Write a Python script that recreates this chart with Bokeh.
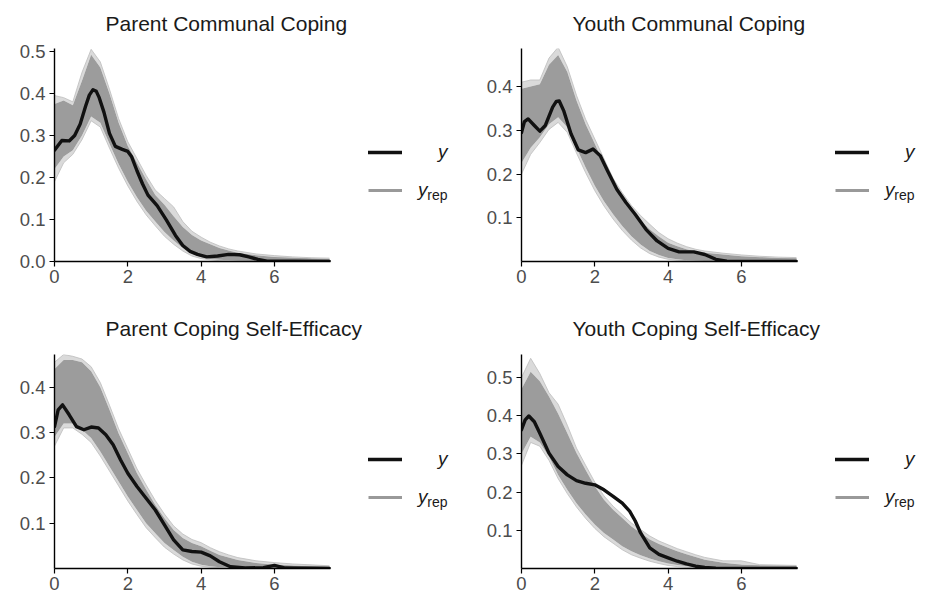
from bokeh.plotting import figure
from bokeh.layouts import column, row
from bokeh.models import Range1d, FixedTicker, Legend, LegendItem, Label, PrintfTickFormatter
from bokeh.embed import file_html
from bokeh.resources import INLINE

# ---------------- data ----------------
X_GRID = [0, 0.25, 0.5, 0.75, 1.0, 1.25, 1.5, 1.75, 2.0, 2.25, 2.5, 2.75, 3.0, 3.25,
          3.5, 3.75, 4.0, 4.25, 4.5, 4.75, 5.0, 5.5, 6.0, 6.5, 7.0, 7.5]
X_TICKS = [0, 2, 4, 6]

TITLES = ["Parent Communal Coping", "Youth Communal Coping",
          "Parent Coping Self-Efficacy", "Youth Coping Self-Efficacy"]
Y_TICKS = [[0.0, 0.1, 0.2, 0.3, 0.4, 0.5], [0.1, 0.2, 0.3, 0.4],
           [0.1, 0.2, 0.3, 0.4], [0.1, 0.2, 0.3, 0.4, 0.5]]
Y_TOP = [0.507, 0.487, 0.472, 0.56]
X_END = 7.53

# y_rep draws: dense band (lower / upper) and outermost draws
pcc_rep_upper = [0.375, 0.383, 0.372, 0.43, 0.492, 0.462, 0.40, 0.33, 0.275, 0.235, 0.195, 0.158, 0.135, 0.108,
                 0.082, 0.063, 0.05, 0.041, 0.032, 0.026, 0.021, 0.015, 0.011, 0.009, 0.007, 0.006]
pcc_rep_max = [0.395, 0.39, 0.38, 0.45, 0.505, 0.475, 0.41, 0.34, 0.285, 0.245, 0.205, 0.17, 0.15, 0.13,
               0.095, 0.072, 0.058, 0.046, 0.037, 0.03, 0.025, 0.018, 0.014, 0.011, 0.009, 0.008]
pcc_rep_lower = [0.22, 0.25, 0.265, 0.30, 0.345, 0.33, 0.28, 0.232, 0.19, 0.153, 0.121, 0.095, 0.07, 0.05,
                 0.032, 0.018, 0.01, 0.006, 0.004, 0.003, 0.002, 0.001, 0.0005, 0.0, 0.0, 0.0]
pcc_rep_min = [0.19, 0.235, 0.255, 0.29, 0.335, 0.32, 0.27, 0.222, 0.18, 0.143, 0.111, 0.085, 0.06, 0.041,
               0.025, 0.013, 0.007, 0.004, 0.002, 0.001, 0.001, 0.0, 0.0, 0.0, 0.0, 0.0]
pcc_y_x = [0, 0.2, 0.4, 0.55, 0.7, 0.85, 0.95, 1.05, 1.14, 1.22, 1.35, 1.5, 1.66, 1.85, 2.0, 2.1, 2.25, 2.4,
           2.55, 2.8, 3.05, 3.3, 3.5, 3.7, 3.9, 4.15, 4.45, 4.75, 5.05, 5.3, 5.55, 5.8, 6.5, 7.5]
pcc_y = [0.265, 0.288, 0.287, 0.30, 0.327, 0.37, 0.396, 0.409, 0.405, 0.39, 0.355, 0.305, 0.274, 0.267, 0.262,
         0.25, 0.216, 0.185, 0.158, 0.133, 0.099, 0.062, 0.038, 0.024, 0.017, 0.011, 0.013, 0.017, 0.016,
         0.011, 0.005, 0.001, 0.0005, 0.0]

ycc_rep_upper = [0.395, 0.40, 0.405, 0.45, 0.472, 0.433, 0.368, 0.314, 0.269, 0.223, 0.18, 0.146, 0.116, 0.093,
                 0.073, 0.057, 0.043, 0.035, 0.028, 0.023, 0.02, 0.016, 0.012, 0.01, 0.008, 0.007]
ycc_rep_max = [0.41, 0.415, 0.415, 0.465, 0.49, 0.445, 0.38, 0.325, 0.28, 0.235, 0.19, 0.157, 0.128, 0.105,
               0.085, 0.066, 0.052, 0.042, 0.034, 0.028, 0.024, 0.019, 0.015, 0.012, 0.01, 0.009]
ycc_rep_lower = [0.225, 0.26, 0.284, 0.314, 0.33, 0.307, 0.26, 0.215, 0.173, 0.138, 0.108, 0.081, 0.058, 0.039,
                 0.024, 0.015, 0.008, 0.005, 0.003, 0.002, 0.001, 0.0, 0.0, 0.0, 0.0, 0.0]
ycc_rep_min = [0.2, 0.245, 0.272, 0.302, 0.318, 0.295, 0.248, 0.203, 0.162, 0.127, 0.097, 0.071, 0.049, 0.031,
               0.018, 0.01, 0.005, 0.003, 0.002, 0.001, 0.0005, 0.0, 0.0, 0.0, 0.0, 0.0]
ycc_y_x = [0, 0.08, 0.18, 0.35, 0.5, 0.65, 0.85, 0.95, 1.03, 1.15, 1.35, 1.55, 1.75, 1.95, 2.15, 2.35, 2.6,
           2.85, 3.1, 3.4, 3.7, 4.0, 4.3, 4.7, 5.0, 5.3, 5.6, 7.5]
ycc_y = [0.295, 0.32, 0.326, 0.311, 0.298, 0.311, 0.353, 0.366, 0.367, 0.345, 0.292, 0.255, 0.249, 0.257,
         0.242, 0.207, 0.165, 0.135, 0.108, 0.073, 0.047, 0.030, 0.022, 0.022, 0.016, 0.005, 0.0005, 0.0]

pse_rep_upper = [0.44, 0.46, 0.46, 0.455, 0.435, 0.40, 0.35, 0.298, 0.254, 0.21, 0.174, 0.14, 0.111, 0.085,
                 0.067, 0.056, 0.049, 0.039, 0.03, 0.024, 0.019, 0.012, 0.008, 0.006, 0.005, 0.004]
pse_rep_max = [0.455, 0.472, 0.468, 0.462, 0.445, 0.41, 0.36, 0.308, 0.264, 0.22, 0.184, 0.15, 0.12, 0.094,
               0.076, 0.064, 0.057, 0.046, 0.037, 0.03, 0.024, 0.017, 0.013, 0.01, 0.008, 0.006]
pse_rep_lower = [0.29, 0.32, 0.32, 0.306, 0.288, 0.258, 0.225, 0.192, 0.159, 0.129, 0.1, 0.078, 0.056, 0.041,
                 0.026, 0.015, 0.008, 0.005, 0.003, 0.002, 0.001, 0.0, 0.0, 0.0, 0.0, 0.0]
pse_rep_min = [0.27, 0.31, 0.31, 0.296, 0.278, 0.248, 0.215, 0.182, 0.149, 0.119, 0.09, 0.068, 0.047, 0.032,
               0.019, 0.01, 0.005, 0.003, 0.002, 0.001, 0.0005, 0.0, 0.0, 0.0, 0.0, 0.0]
pse_y_x = [0, 0.1, 0.22, 0.4, 0.6, 0.8, 1.0, 1.2, 1.4, 1.6, 1.8, 2.0, 2.25, 2.5, 2.75, 3.0, 3.25, 3.5, 3.75,
           4.0, 4.25, 4.5, 4.8, 5.2, 5.7, 6.0, 6.3, 7.5]
pse_y = [0.313, 0.35, 0.361, 0.339, 0.313, 0.306, 0.312, 0.31, 0.295, 0.273, 0.24, 0.21, 0.181, 0.155, 0.129,
         0.096, 0.063, 0.041, 0.0375, 0.036, 0.028, 0.015, 0.004, 0.001, 0.002, 0.007, 0.001, 0.0]

yse_rep_upper = [0.47, 0.515, 0.49, 0.45, 0.405, 0.354, 0.302, 0.258, 0.215, 0.18, 0.154, 0.132, 0.11, 0.093,
                 0.076, 0.064, 0.054, 0.045, 0.037, 0.03, 0.023, 0.015, 0.01, 0.008, 0.007, 0.006]
yse_rep_max = [0.5, 0.55, 0.51, 0.46, 0.43, 0.375, 0.315, 0.27, 0.226, 0.19, 0.163, 0.141, 0.119, 0.102,
               0.085, 0.072, 0.062, 0.052, 0.044, 0.036, 0.029, 0.02, 0.02, 0.01, 0.009, 0.008]
yse_rep_lower = [0.30, 0.345, 0.33, 0.293, 0.245, 0.206, 0.171, 0.141, 0.115, 0.093, 0.076, 0.058, 0.045, 0.035,
                 0.026, 0.019, 0.013, 0.009, 0.006, 0.004, 0.003, 0.002, 0.001, 0.0, 0.0, 0.0]
yse_rep_min = [0.27, 0.33, 0.32, 0.283, 0.235, 0.196, 0.161, 0.131, 0.105, 0.083, 0.066, 0.049, 0.036, 0.027,
               0.019, 0.013, 0.008, 0.005, 0.003, 0.002, 0.001, 0.0, 0.0, 0.0, 0.0, 0.0]
yse_y_x = [0, 0.1, 0.2, 0.35, 0.5, 0.75, 1.0, 1.25, 1.5, 1.75, 2.0, 2.25, 2.5, 2.75, 2.95, 3.1, 3.25, 3.5,
           3.75, 4.0, 4.25, 4.5, 4.75, 5.0, 5.3, 7.5]
yse_y = [0.363, 0.389, 0.399, 0.384, 0.354, 0.302, 0.267, 0.245, 0.23, 0.223, 0.219, 0.206, 0.189, 0.171,
         0.15, 0.125, 0.093, 0.054, 0.037, 0.028, 0.019, 0.012, 0.006, 0.003, 0.0005, 0.0]

PANELS = [
    (pcc_rep_lower, pcc_rep_upper, pcc_rep_min, pcc_rep_max, pcc_y_x, pcc_y),
    (ycc_rep_lower, ycc_rep_upper, ycc_rep_min, ycc_rep_max, ycc_y_x, ycc_y),
    (pse_rep_lower, pse_rep_upper, pse_rep_min, pse_rep_max, pse_y_x, pse_y),
    (yse_rep_lower, yse_rep_upper, yse_rep_min, yse_rep_max, yse_y_x, yse_y),
]

# ---------------- styling ----------------
FONT = "Liberation Sans"
BAND = "#9c9c9c"
HALO = "#d4d4d4"
EDGE = "#bdbdbd"
YCOL = "#111111"
DATA_W = 276          # pixel width of the data area (0 .. X_END)
TXT = "#1a1a1a"


def make_panel(i, width, left, top, bottom, title_standoff):
    lower, upper, rmin, rmax, yx, yv = PANELS[i]
    height = 299
    frame_w = width - left
    x_full = X_END * frame_w / DATA_W   # frame also hosts the legend on the right
    p = figure(width=width, height=height, output_backend="svg", toolbar_location=None,
               x_range=Range1d(0, x_full), y_range=Range1d(0, Y_TOP[i]),
               min_border_left=left, min_border_right=0,
               min_border_top=top, min_border_bottom=bottom)
    p.title.text = TITLES[i]
    p.title.align = "left"
    p.title.vertical_align = "top"
    p.title.offset = 51
    p.title.standoff = title_standoff
    p.title.text_font = FONT
    p.title.text_font_size = "21px"
    p.title.text_font_style = "normal"
    p.title.text_color = TXT
    p.outline_line_color = None
    p.xgrid.visible = False
    p.ygrid.visible = False
    p.background_fill_color = "white"
    p.border_fill_color = "white"

    for ax in (p.xaxis, p.yaxis):
        ax.axis_line_color = "black"
        ax.axis_line_width = 1.4
        ax.major_tick_line_color = "black"
        ax.major_tick_line_width = 1.2
        ax.major_tick_out = 5
        ax.major_tick_in = 0
        ax.minor_tick_line_color = None
        ax.major_label_text_font = FONT
        ax.major_label_text_font_size = "18.5px"
        ax.major_label_text_color = "#4d4d4d"
    p.xaxis.bounds = (0, X_END)
    p.xaxis.ticker = FixedTicker(ticks=X_TICKS)
    p.yaxis.ticker = FixedTicker(ticks=Y_TICKS[i])
    p.yaxis.formatter = PrintfTickFormatter(format="%.1f")
    p.xaxis.major_label_standoff = 3
    p.yaxis.major_label_standoff = 4

    # y_rep draws: a representative draw (band centre) used for the legend key,
    # then the spread of the draws on top of it
    mid = [(a + b) / 2 for a, b in zip(lower, upper)]
    r_rep = p.line(X_GRID, mid, line_color="#999999", line_width=3.2)
    p.varea(x=X_GRID, y1=rmin, y2=lower, fill_color=HALO, fill_alpha=0.85)
    p.varea(x=X_GRID, y1=upper, y2=rmax, fill_color=HALO, fill_alpha=0.85)
    p.varea(x=X_GRID, y1=lower, y2=upper, fill_color=BAND, fill_alpha=1.0)
    p.line(X_GRID, rmax, line_color=EDGE, line_width=0.8)
    p.line(X_GRID, rmin, line_color=EDGE, line_width=0.8)
    # observed y
    r_y = p.line(yx, yv, line_color=YCOL, line_width=3.4, line_join="round", line_cap="round")

    legend = Legend(items=[LegendItem(label=" ", renderers=[r_y]),
                           LegendItem(label=" ", renderers=[r_rep])],
                    location=(DATA_W + 38, 61), glyph_width=34, glyph_height=20,
                    label_height=20, label_width=0, label_standoff=0, spacing=18,
                    padding=0, margin=0, border_line_color=None,
                    background_fill_alpha=0)
    p.add_layout(legend)

    tx = DATA_W + 117
    p.add_layout(Label(x=tx, y=110, x_units="screen", y_units="screen", text="y",
                       text_align="right", text_baseline="alphabetic", text_font=FONT,
                       text_font_style="italic", text_font_size="19px", text_color=TXT))
    p.add_layout(Label(x=tx - 20, y=72, x_units="screen", y_units="screen", text="y",
                       text_align="right", text_baseline="alphabetic", text_font=FONT,
                       text_font_style="italic", text_font_size="19px", text_color=TXT))
    p.add_layout(Label(x=tx, y=67, x_units="screen", y_units="screen", text="rep",
                       text_align="right", text_baseline="alphabetic", text_font=FONT,
                       text_font_size="14px", text_color=TXT))
    return p


p1 = make_panel(0, 465, 54, 48, 38, 22.5)
p2 = make_panel(1, 466, 56, 48, 38, 22.5)
p3 = make_panel(2, 465, 54, 55, 30, 25)
p4 = make_panel(3, 466, 56, 55, 30, 25)

layout = column(row(p1, p2), row(p3, p4))

open("out.html", "w").write(file_html(layout, INLINE))
